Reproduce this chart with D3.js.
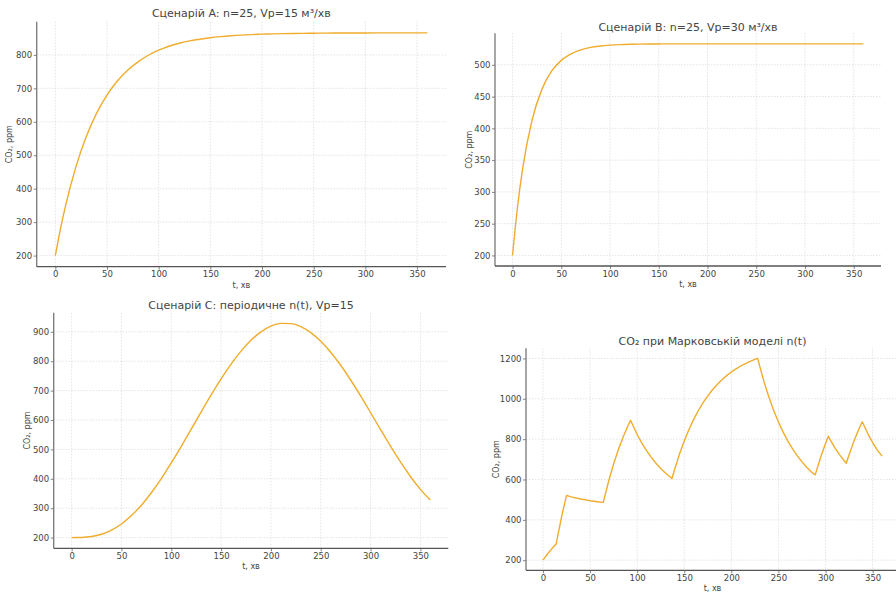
<!DOCTYPE html>
<html>
<head>
<meta charset="utf-8">
<script src="https://cdn.jsdelivr.net/npm/d3@7"></script>
<style>
  body { margin: 0; background: #fff; }
  svg { font-family: "DejaVu Sans", sans-serif; }
  .domain { display: none; }
</style>
</head>
<body>
<div id="chart"></div>
<script>
// time grid for scenarios A, B, C (min)
var times = [0, 5, 10, 20, 30, 40, 50, 60, 70, 80, 90, 100, 110, 120, 130, 140, 150, 160, 170, 180,
    190, 200, 210, 220, 230, 240, 250, 260, 270, 280, 290, 300, 310, 320, 330, 340, 350, 360];

var co2A = [200, 280, 350, 466, 556, 626, 680, 722, 754, 779, 799, 814, 826, 835, 842, 847, 851.5, 854.7, 857.3, 859.3,
    860.8, 862, 862.9, 863.6, 864.1, 864.5, 864.9, 865.1, 865.3, 865.5, 865.6, 865.7, 865.8, 865.8, 865.9, 865.9, 865.9, 866];

var co2B = [200, 275, 333, 413, 461, 490, 507, 517.4, 523.6, 527.4, 529.6, 531, 531.8, 532.3, 532.6, 532.8, 532.9, 533, 533, 533,
    533, 533, 533, 533, 533, 533, 533, 533, 533, 533, 533, 533, 533, 533, 533, 533, 533, 533];

var co2C = [200, 200.1, 200.4, 203.6, 211.5, 225.5, 246.4, 274.8, 310.3, 352.6, 400.8, 453.8, 510.4, 568.9, 627.8, 685.3, 740, 790.2, 834.3, 871.2,
    899.7, 919, 928.6, 928, 917.6, 897.4, 868.1, 830.7, 786.2, 736.1, 681.8, 625.1, 567.6, 511.1, 457.2, 407.7, 364, 327.5];

// Markov scenario
var timesM = [0, 5, 10, 14, 15, 20, 25, 30, 40, 50, 60, 64, 70, 75, 80, 85, 90, 93, 100, 105,
    110, 115, 120, 125, 130, 137, 140, 145, 150, 155, 160, 165, 170, 175, 180, 185, 190, 195, 200, 205,
    210, 215, 220, 225, 228, 230, 235, 240, 245, 250, 255, 260, 265, 270, 275, 280, 285, 289, 295, 300,
    303, 305, 310, 315, 322, 325, 330, 335, 339, 345, 350, 355, 360];

var co2M = [200, 232, 260, 280, 305, 420, 521, 514, 503.5, 495, 488.5, 486.5, 596.5, 676.6, 747, 809, 863.8, 893.3, 823.2, 780.4,
    742.7, 709.6, 680.4, 654.7, 632.1, 605, 653.6, 726.8, 791.3, 848, 897.9, 941.9, 980.6, 1014.7, 1044.6, 1071, 1094.3, 1114.7, 1132.7, 1148.6,
    1162.5, 1174.8, 1185.6, 1195.1, 1200.2, 1163.5, 1080, 1006.4, 941.7, 884.8, 834.6, 790.4, 751.6, 717.4, 687.3, 660.8, 637.5, 623, 712.4, 778.6,
    814.4, 796.7, 757.1, 722.2, 680.3, 723.1, 788, 845.1, 885.9, 826.4, 783.2, 745.3, 716];

var xTicks = [0, 50, 100, 150, 200, 250, 300, 350];
var yTicksA = [200, 300, 400, 500, 600, 700, 800];
var yTicksB = [200, 250, 300, 350, 400, 450, 500];
var yTicksC = [200, 300, 400, 500, 600, 700, 800, 900];
var yTicksM = [200, 400, 600, 800, 1000, 1200];

var titles = ["Сценарій A: n=25, Vp=15 м³/хв", "Сценарій B: n=25, Vp=30 м³/хв",
    "Сценарій C: періодичне n(t), Vp=15", "CO₂ при Марковській моделі n(t)"];

var lineColor = "#f0ac2c";
var textColor = "#444";

var svg = d3.select("#chart")
    .append("svg")
    .attr("width", 896)
    .attr("height", 592);

// panel boxes in px
var panels = [
    {left: 36.7, right: 446, top: 21.7, bottom: 266.7, t: times, v: co2A, yt: yTicksA, title: titles[0], titleY: 17, ylabX: 9},
    {left: 495, right: 881, top: 33.3, bottom: 266, t: times, v: co2B, yt: yTicksB, title: titles[1], titleY: 30.5, ylabX: 469},
    {left: 53.7, right: 448.3, top: 312.7, bottom: 548.3, t: times, v: co2C, yt: yTicksC, title: titles[2], titleY: 309, ylabX: 27},
    {left: 526, right: 899, top: 348.3, bottom: 570.3, t: timesM, v: co2M, yt: yTicksM, title: titles[3], titleY: 344.5, ylabX: 496}
];

var pad = function(ext) {
    var m = (ext[1] - ext[0]) * 0.05;
    return [ext[0] - m, ext[1] + m];
};

var drawPanel = function(p) {
    var w = p.right - p.left,
        h = p.bottom - p.top;

    var g = svg.append("g")
        .attr("transform", "translate(" + p.left + "," + p.top + ")");

    var x = d3.scaleLinear()
        .domain(pad(d3.extent(p.t)))
        .range([0, w]);

    var y = d3.scaleLinear()
        .domain(pad(d3.extent(p.v)))
        .range([h, 0]);

    // grid
    g.append("g")
        .selectAll("line")
        .data(xTicks)
        .enter()
        .append("line")
        .attr("x1", function(d) { return x(d); })
        .attr("x2", function(d) { return x(d); })
        .attr("y1", 0)
        .attr("y2", h)
        .attr("stroke", "#d9d9d9")
        .attr("stroke-width", 0.7)
        .attr("stroke-dasharray", "1.5,1.5");

    g.append("g")
        .selectAll("line")
        .data(p.yt)
        .enter()
        .append("line")
        .attr("x1", 0)
        .attr("x2", w)
        .attr("y1", function(d) { return y(d); })
        .attr("y2", function(d) { return y(d); })
        .attr("stroke", "#d9d9d9")
        .attr("stroke-width", 0.7)
        .attr("stroke-dasharray", "1.5,1.5");

    // axes
    var xAxis = g.append("g")
        .attr("transform", "translate(0," + h + ")")
        .call(d3.axisBottom(x).tickValues(xTicks).tickFormat(d3.format("d")).tickSize(3).tickPadding(1.5));

    var yAxis = g.append("g")
        .call(d3.axisLeft(y).tickValues(p.yt).tickFormat(d3.format("d")).tickSize(3).tickPadding(1.5));

    [xAxis, yAxis].forEach(function(a) {
        a.selectAll("text")
            .attr("fill", textColor)
            .style("font-size", "8.5px")
            .style("font-family", "DejaVu Sans");
        a.selectAll(".tick line").attr("stroke", "#666").attr("stroke-width", 0.8);
    });

    // spines
    g.append("line")
        .attr("x1", 0).attr("x2", 0).attr("y1", 0).attr("y2", h)
        .attr("stroke", "#777").attr("stroke-width", 1.3);
    g.append("line")
        .attr("x1", 0).attr("x2", w).attr("y1", h).attr("y2", h)
        .attr("stroke", "#555").attr("stroke-width", 1.3);

    // curve
    var line = d3.line()
        .x(function(d, i) { return x(p.t[i]); })
        .y(function(d) { return y(d); });

    if (p.t !== timesM) line.curve(d3.curveMonotoneX);

    g.append("path")
        .datum(p.v)
        .attr("fill", "none")
        .attr("stroke", lineColor)
        .attr("stroke-width", 1.4)
        .attr("stroke-linejoin", "round")
        .attr("d", line);

    // texts
    svg.append("text")
        .attr("x", p.left + w / 2)
        .attr("y", p.titleY)
        .attr("text-anchor", "middle")
        .attr("fill", textColor)
        .style("font-size", "11px")
        .text(p.title);

    svg.append("text")
        .attr("x", p.left + w / 2)
        .attr("y", p.bottom + 21)
        .attr("text-anchor", "middle")
        .attr("fill", textColor)
        .style("font-size", "8px")
        .text("t, хв");

    svg.append("text")
        .attr("transform", "translate(" + p.ylabX + "," + (p.top + h / 2) + ") rotate(-90)")
        .attr("text-anchor", "middle")
        .attr("dy", "0.35em")
        .attr("fill", textColor)
        .style("font-size", "8px")
        .text("CO₂, ppm");
};

panels.forEach(function(p) {
    drawPanel(p);
});
</script>
</body>
</html>
